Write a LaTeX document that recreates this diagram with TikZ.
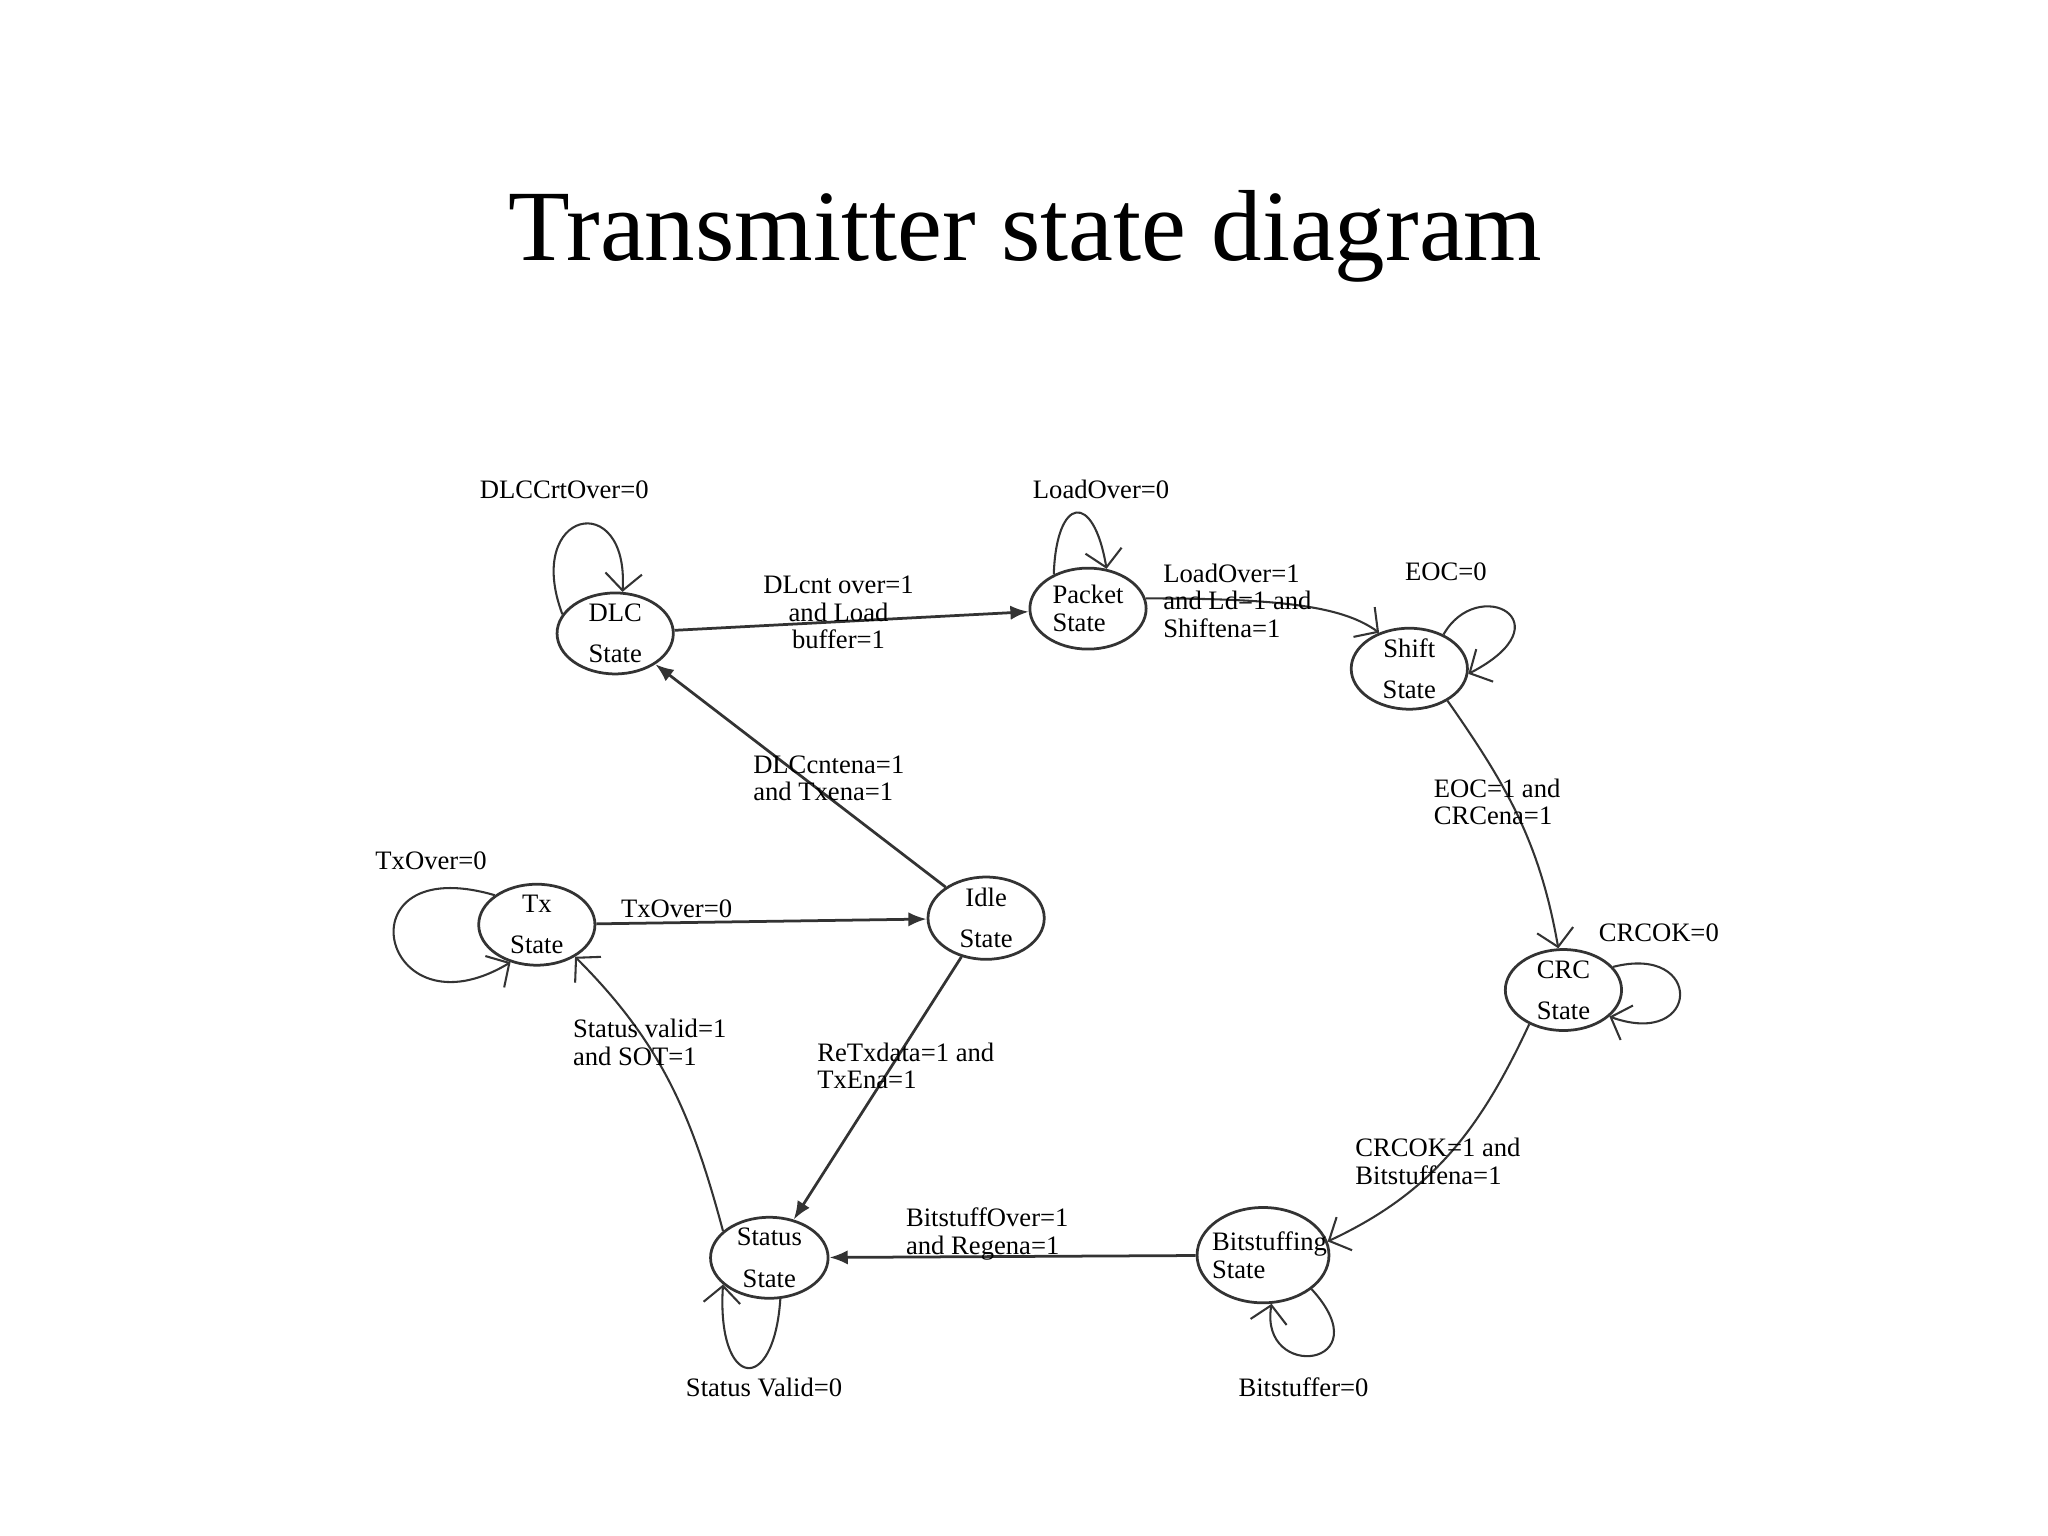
\documentclass[tikz,border=0pt]{standalone}
\usepackage{fontspec}
\setmainfont{Liberation Serif}
\usetikzlibrary{arrows.meta, shapes.geometric}
\definecolor{inkgray}{HTML}{333333}

\begin{document}
\begin{tikzpicture}[
  every node/.style={text=black},
  state/.style={ellipse, draw=inkgray, line width=0.6pt, inner sep=0pt, minimum width=0.89cm, minimum height=0.62cm},
  statetext/.style={font=\fontsize{5.8}{6}\selectfont, align=center, inner sep=0pt},
  cond/.style={font=\fontsize{5.8}{6}\selectfont, inner sep=0pt},
  solidarr/.style={draw=inkgray, line width=0.6pt, -{Latex[length=1.4mm, width=1.1mm]}},
  handarr/.style={draw=inkgray, line width=0.45pt, -{Straight Barb[length=1.3mm, width=2.8mm]}},
]

% Frame
\useasboundingbox (0,0) rectangle (15.68,11.76);

% Title
\node[font=\fontsize{22}{26}\selectfont] (title) at (7.85,9.95) {Transmitter state diagram};

% States
\node[state, label={[statetext]center:{DLC\\[3pt]State}}] (dlc) at (4.71,6.91) {};
\node[state, label={[statetext, align=left]center:{Packet\\State}}] (packet) at (8.33,7.10) {};
\node[state, label={[statetext]center:{Shift\\[3pt]State}}] (shift) at (10.79,6.64) {};
\node[state, label={[statetext]center:{CRC\\[3pt]State}}] (crc) at (11.97,4.18) {};
\node[state, minimum width=1.01cm, minimum height=0.73cm, label={[statetext, align=left, xshift=0.5mm]center:{Bitstuffing\\State}}] (bitstuff) at (9.67,2.15) {};
\node[state, minimum width=0.90cm, label={[statetext]center:{Status\\[3pt]State}}] (status) at (5.89,2.13) {};
\node[state, label={[statetext]center:{Tx\\[3pt]State}}] (tx) at (4.11,4.68) {};
\node[state, minimum height=0.63cm, label={[statetext]center:{Idle\\[3pt]State}}] (idle) at (7.55,4.73) {};

% Transitions
\draw[solidarr] (dlc) -- (packet);
\draw[handarr] (packet.10) .. controls (9.9,7.18) and (10.3,7.1) .. (shift.130);
\draw[handarr] (shift.-40) to[out=-55, in=100] (crc.97);
\draw[handarr] (crc.-135) to[out=-115, in=25] (bitstuff.12);
\draw[solidarr] (bitstuff) -- (status);
\draw[handarr] (status.150) to[out=105, in=-45] (tx.-40);
\draw[solidarr] (tx) -- (idle);
\draw[solidarr] (idle) -- (dlc);
\draw[solidarr] (idle) -- (status);

% Self loops
\draw[handarr] (dlc.160) .. controls +(-0.3,0.8) and +(0.05,0.8) .. (dlc.80);
\draw[handarr] (packet.135) .. controls +(0.02,0.6) and +(-0.1,0.6) .. (packet.65);
\draw[handarr] (shift.45) .. controls +(0.26,0.46) and +(0.77,0.40) .. (shift.-5);
\draw[handarr] (crc.25) .. controls +(0.7,0.18) and +(0.7,-0.25) .. (crc.-30);
\draw[handarr] (tx.145) .. controls +(-1.2,0.35) and +(-1.0,-0.6) .. (tx.-125);
\draw[handarr] (status.-75) .. controls +(-0.05,-0.75) and +(-0.05,-0.8) .. (status.-150);
\draw[handarr] (bitstuff.-35) .. controls +(0.55,-0.6) and +(-0.1,-0.6) .. (bitstuff.-80);

% Loop conditions
\node[cond] (lDlcLoop) at (4.32,8.01) {DLCCrtOver=0};
\node[cond] (lPktLoop) at (8.43,8.01) {LoadOver=0};
\node[cond] (lShiftLoop) at (11.07,7.38) {EOC=0};
\node[cond] (lCrcLoop) at (12.70,4.62) {CRCOK=0};
\node[cond] (lTxLoop) at (3.30,5.17) {TxOver=0};
\node[cond] (lStatusLoop) at (5.85,1.14) {Status Valid=0};
\node[cond] (lBitLoop) at (9.98,1.14) {Bitstuffer=0};

% Transition conditions
\node[cond, align=center] (lDlcPkt) at (6.42,7.07) {DLcnt over=1\\and Load\\buffer=1};
\node[cond, anchor=west, align=left] (lPktShift) at (8.90,7.16) {LoadOver=1\\and Ld=1 and\\Shiftena=1};
\node[cond, anchor=west, align=left] (lShiftCrc) at (10.97,5.62) {EOC=1 and\\CRCena=1};
\node[cond, anchor=west, align=left] (lCrcBit) at (10.37,2.87) {CRCOK=1 and\\Bitstuffena=1};
\node[cond, anchor=west, align=left] (lBitStatus) at (6.93,2.31) {BitstuffOver=1\\and Regena=1};
\node[cond, anchor=west, align=left] (lStatusTx) at (4.38,3.78) {Status valid=1\\and SOT=1};
\node[cond] (lTxIdle) at (5.18,4.80) {TxOver=0};
\node[cond, anchor=west, align=left] (lIdleDlc) at (5.76,5.80) {DLCcntena=1\\and Txena=1};
\node[cond, anchor=west, align=left] (lIdleStatus) at (6.25,3.60) {ReTxdata=1 and\\TxEna=1};

\end{tikzpicture}
\end{document}
